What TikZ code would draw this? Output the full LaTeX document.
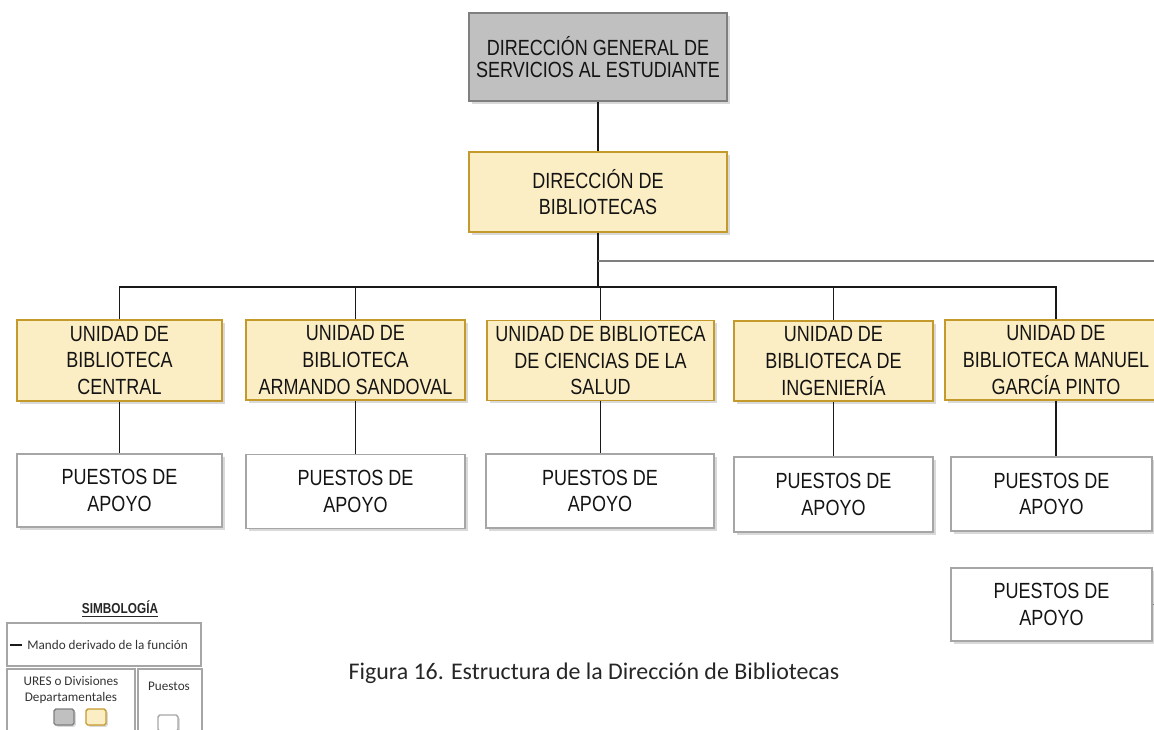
\documentclass[tikz,border=0pt]{standalone}
\usepackage{fontspec}
\usepackage{tikz}
\usetikzlibrary{shadows}
\newfontfamily\orgfont{Liberation Sans}[FakeStretch=0.82]
\newfontfamily\notefont{Carlito}
\definecolor{dirgray}{HTML}{C0C0C0}
\definecolor{dirgrayline}{HTML}{7F7F7F}
\definecolor{unityellow}{HTML}{FCEEC4}
\definecolor{unitgold}{HTML}{C49A2C}
\definecolor{apoyoline}{HTML}{A6A6A6}
\tikzset{
	orgbox/.style={draw, line width=1pt, align=center, inner sep=2pt, text=black!92,
		font=\orgfont\fontsize{12.5}{15.2}\selectfont,
		drop shadow={shadow xshift=1.6pt, shadow yshift=-1.6pt, opacity=0.3}},
	graybox/.style={orgbox, fill=dirgray, draw=dirgrayline, font=\orgfont\fontsize{12.5}{12.6}\selectfont},
	unitbox/.style={orgbox, fill=unityellow, draw=unitgold, minimum height=1.6cm},
	apoyobox/.style={orgbox, fill=white, draw=apoyoline, minimum height=1.48cm},
	mando/.style={line width=1pt, black!90},
	legendline/.style={line width=0.8pt, draw=apoyoline},
	legendtext/.style={font=\notefont\fontsize{7.5}{9}\selectfont, text=black!80, inner sep=0pt},
}

\begin{document}
\begin{tikzpicture}[x=0.02cm, y=-0.02cm]
			%%%%% START %%%%%
			\useasboundingbox (0,0) rectangle (1154,730);
			\clip (0,0) rectangle (1154,730);
			
			% direcciones
			\node[graybox, minimum width=5.16cm, minimum height=1.76cm] (dgse) at (598,57) {DIRECCIÓN GENERAL DE\\SERVICIOS AL ESTUDIANTE};
			\node[unitbox, minimum width=5.16cm] (dbib) at (598,192) {DIRECCIÓN DE\\BIBLIOTECAS};
			
			% unidades
			\node[unitbox, minimum width=4.1cm, minimum height=1.62cm] (uCentral) at (119.5,360.5) {UNIDAD DE\\BIBLIOTECA\\CENTRAL};
			\node[unitbox, minimum width=4.38cm] (uSandoval) at (355.5,360) {UNIDAD DE\\BIBLIOTECA\\ARMANDO SANDOVAL};
			\node[unitbox, minimum width=4.54cm] (uSalud) at (600.5,360.5) {UNIDAD DE BIBLIOTECA\\DE CIENCIAS DE LA\\SALUD};
			\node[unitbox, minimum width=3.98cm] (uIng) at (833.5,361) {UNIDAD DE\\BIBLIOTECA DE\\INGENIERÍA};
			\node[unitbox, minimum width=4.44cm] (uGarcia) at (1056,360) {UNIDAD DE\\BIBLIOTECA MANUEL\\GARCÍA PINTO};
			
			% puestos de apoyo
			\node[apoyobox, minimum width=4.1cm, minimum height=1.46cm] (apoyoCentral) at (119.5,490.5) {PUESTOS DE\\APOYO};
			\node[apoyobox, minimum width=4.38cm] (apoyoSandoval) at (355.5,491.5) {PUESTOS DE\\APOYO};
			\node[apoyobox, minimum width=4.56cm] (apoyoSalud) at (600,491) {PUESTOS DE\\APOYO};
			\node[apoyobox, minimum width=3.98cm, minimum height=1.5cm] (apoyoIng) at (833.5,494.5) {PUESTOS DE\\APOYO};
			\node[apoyobox, minimum width=4.02cm] (apoyoGarcia) at (1051.5,494) {PUESTOS DE\\APOYO};
			\node[apoyobox, minimum width=4.02cm, minimum height=1.46cm] (apoyoGarciaB) at (1051.5,604.5) {PUESTOS DE\\APOYO};
			
			% mando
			\coordinate (bus) at (598,287);
			\coordinate (spareEnd) at (1160,261);
			\coordinate (garciaTick) at (1170,604.5);
			\draw[mando] (dgse) -- (dbib);
			\draw[mando] (dbib.south) -- (bus);
			\draw[line width=0.6pt, dirgrayline] (dbib.south |- spareEnd) -- (spareEnd);
			\draw[mando] (uCentral.north) |- (bus) -| (uGarcia.north);
			\foreach \u in {uSandoval,uSalud,uIng}
				\draw[mando] (\u.north) -- (\u.north |- bus);
			\foreach \u/\p in {uCentral/apoyoCentral,uSandoval/apoyoSandoval,uSalud/apoyoSalud,uIng/apoyoIng,uGarcia/apoyoGarcia}
				\draw[mando] (\u.south) -- (\u.south |- \p.north);
			\draw[line width=0.6pt, dirgrayline] (apoyoGarciaB.east) -- (garciaTick);
			
			% simbologia
			\node[font=\orgfont\bfseries\fontsize{8.2}{9}\selectfont, text=black!85] (simbologia) at (120,609) {\underline{SIMBOLOGÍA}};
			\draw[legendline] (7,623) rectangle (201,666);
			\draw[mando] (10,645) -- (22,645);
			\node[legendtext, anchor=west] (mandoText) at (27,645) {Mando derivado de la función};
			\draw[legendline] (7,669) rectangle (135,745);
			\draw[legendline] (138,669) rectangle (202,745);
			\node[legendtext, align=center] (uresText) at (71,690) {URES o Divisiones\\Departamentales};
			\node[legendtext] (puestosText) at (169,686) {Puestos};
			\draw[draw=dirgrayline, fill=dirgray, line width=0.8pt, rounded corners=1pt, drop shadow={shadow xshift=1pt, shadow yshift=-1pt, opacity=0.3}] (54,709) rectangle (74,725);
			\draw[draw=unitgold, fill=unityellow, line width=0.8pt, rounded corners=1pt, drop shadow={shadow xshift=1pt, shadow yshift=-1pt, opacity=0.3}] (86,709) rectangle (106,725);
			\draw[draw=apoyoline, fill=white, line width=0.8pt, rounded corners=1pt, drop shadow={shadow xshift=1pt, shadow yshift=-1pt, opacity=0.3}] (158,715) rectangle (178,731);
			
			\node[font=\notefont\fontsize{13.6}{16}\selectfont, text=black!85] (caption) at (594,673) {Figura 16. Estructura de la Dirección de Bibliotecas};
			%%%%% END %%%%%
\end{tikzpicture}
\end{document}
